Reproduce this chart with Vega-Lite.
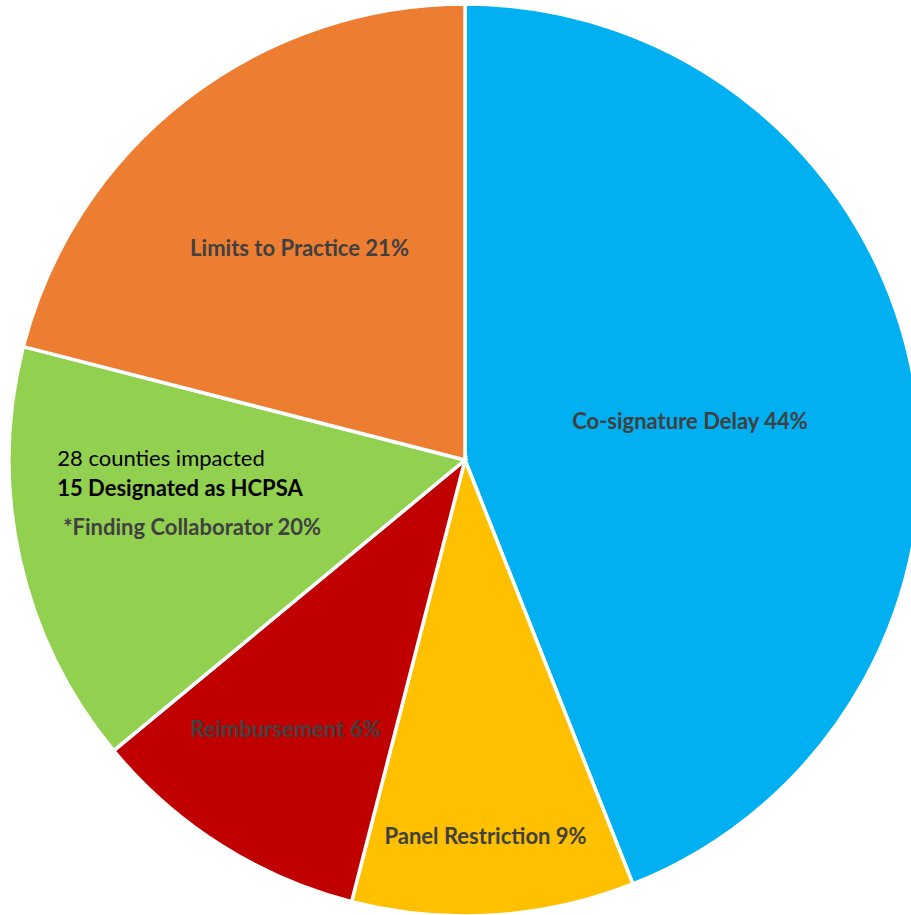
{
  "$schema": "https://vega.github.io/schema/vega-lite/v6.json",
  "width": 930,
  "height": 920,
  "autosize": {"type": "none"},
  "padding": 0,
  "background": "white",
  "config": {"view": {"stroke": null}},
  "data": {
    "values": [
      {"category": "Co-signature Delay", "value": 44, "ord": 1, "label": "Co-signature Delay 44%"},
      {"category": "Panel Restriction", "value": 10, "ord": 2, "label": "Panel Restriction 9%"},
      {"category": "Reimbursement", "value": 10, "ord": 3, "label": "Reimbursement  6%"},
      {"category": "Finding Collaborator", "value": 15, "ord": 4, "label": " *Finding Collaborator 20%", "note1": "28 counties impacted", "note2": "15 Designated as HCPSA"},
      {"category": "Limits to Practice", "value": 21, "ord": 5, "label": "Limits to Practice 21%"}
    ]
  },
  "encoding": {
    "theta": {"field": "value", "type": "quantitative", "stack": true},
    "order": {"field": "ord", "type": "quantitative"}
  },
  "layer": [
    {
      "mark": {"type": "arc", "outerRadius": 456, "stroke": "white", "strokeWidth": 3.5},
      "encoding": {
        "color": {
          "field": "category",
          "type": "nominal",
          "legend": null,
          "scale": {
            "domain": ["Co-signature Delay", "Panel Restriction", "Reimbursement", "Finding Collaborator", "Limits to Practice"],
            "range": ["#00B0F0", "#FFC000", "#C00000", "#92D050", "#ED7D31"]
          }
        }
      }
    },
    {
      "mark": {"type": "text", "radius": 229, "dy": 5, "font": "Lato", "fontWeight": "bold", "fontSize": 22, "color": "#404040", "align": "center", "baseline": "middle"},
      "encoding": {"text": {"condition": {"test": "datum.category === 'Co-signature Delay'", "field": "label"}, "value": ""}}
    },
    {
      "mark": {"type": "text", "radius": 375, "dx": -3, "dy": 3, "font": "Lato", "fontWeight": "bold", "fontSize": 22, "color": "#404040", "align": "center", "baseline": "middle"},
      "encoding": {"text": {"condition": {"test": "datum.category === 'Panel Restriction'", "field": "label"}, "value": ""}}
    },
    {
      "mark": {"type": "text", "radius": 322, "dx": -7, "dy": -2, "font": "Lato", "fontWeight": "bold", "fontSize": 22, "color": "#404040", "align": "center", "baseline": "middle"},
      "encoding": {"text": {"condition": {"test": "datum.category === 'Reimbursement'", "field": "label"}, "value": ""}}
    },
    {
      "mark": {"type": "text", "radius": 270, "dy": 2, "font": "Lato", "fontWeight": "bold", "fontSize": 22, "color": "#404040", "align": "center", "baseline": "middle"},
      "encoding": {"text": {"condition": {"test": "datum.category === 'Limits to Practice'", "field": "label"}, "value": ""}}
    },
    {
      "mark": {"type": "text", "radius": 300, "dx": -115, "dy": -66, "font": "Lato", "fontWeight": "normal", "fontSize": 22, "color": "#000000", "align": "left", "baseline": "middle"},
      "encoding": {"text": {"condition": {"test": "datum.category === 'Finding Collaborator'", "field": "note1"}, "value": ""}}
    },
    {
      "mark": {"type": "text", "radius": 300, "dx": -115, "dy": -36, "font": "Lato", "fontWeight": "bold", "fontSize": 22, "color": "#000000", "align": "left", "baseline": "middle"},
      "encoding": {"text": {"condition": {"test": "datum.category === 'Finding Collaborator'", "field": "note2"}, "value": ""}}
    },
    {
      "mark": {"type": "text", "radius": 300, "dx": -109, "dy": 3, "font": "Lato", "fontWeight": "bold", "fontSize": 22, "color": "#404040", "align": "left", "baseline": "middle"},
      "encoding": {"text": {"condition": {"test": "datum.category === 'Finding Collaborator'", "field": "label"}, "value": ""}}
    }
  ]
}
